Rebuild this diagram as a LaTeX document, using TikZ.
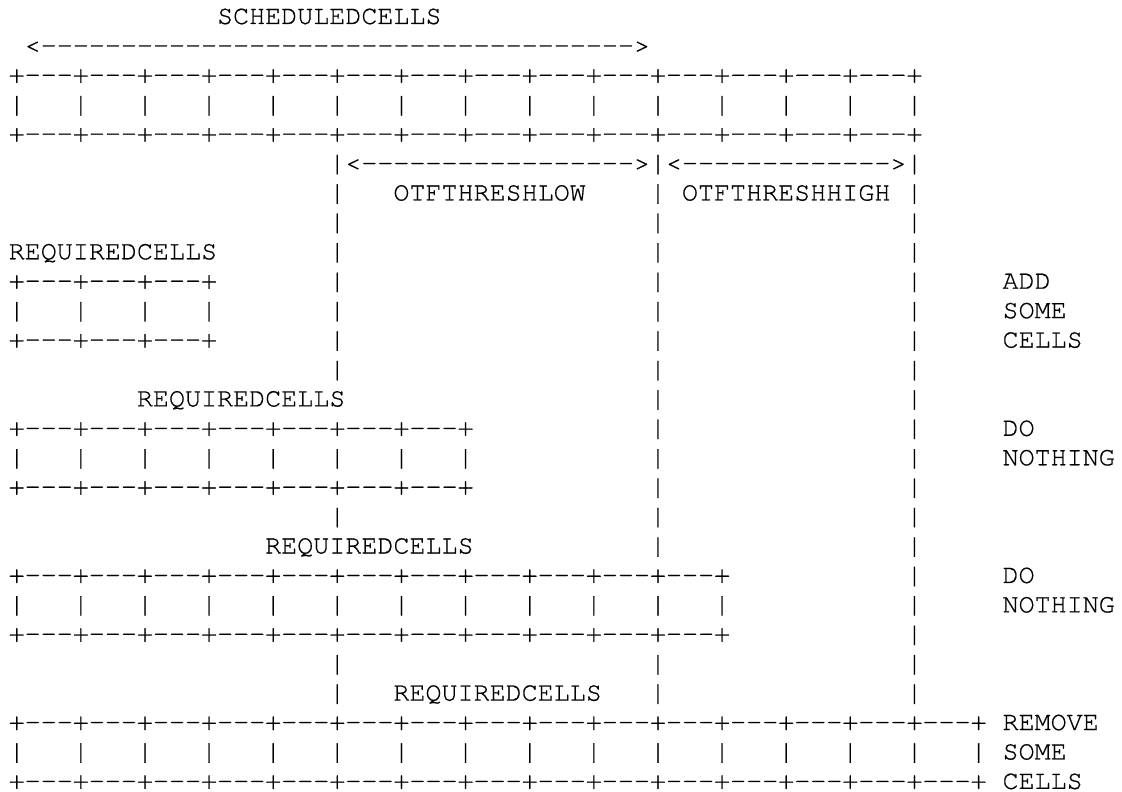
\documentclass[tikz,border=0pt]{standalone}
\usepackage{fontspec}
\setmonofont[FakeBold=0.6]{TeX Gyre Cursor}
\ExplSyntaxOn
\NewDocumentCommand\Rep{mm}{\prg_replicate:nn{#1}{#2}}
\ExplSyntaxOff
\newcommand\PL[1]{\Rep{#1}{+---}+}
\newcommand\BR[1]{\Rep{#1}{|~~~}|}
\tikzset{txt/.style={anchor=base west, inner sep=0pt, outer sep=0pt, text=black,
  font=\ttfamily\fontsize{26.72}{29.42}\selectfont}}
\newcommand\seg[3]{\node[txt] (r#1c#2) at ({8.7+16.03*#2},{792-82.8-29.42*(#1-3)}) {#3};}
\begin{document}
\begin{tikzpicture}[x=1pt,y=1pt]
\useasboundingbox (0,0) rectangle (1122,792);
\seg{1}{13}{SCHEDULEDCELLS}
\seg{2}{1}{<\Rep{37}{-}>}
\seg{3}{0}{\PL{14}}
\seg{4}{0}{\BR{14}}
\seg{5}{0}{\PL{14}}
\seg{6}{20}{|<\Rep{17}{-}>|<\Rep{13}{-}>|}
\seg{7}{20}{|}\seg{7}{24}{OTFTHRESHLOW}\seg{7}{40}{|}\seg{7}{42}{OTFTHRESHHIGH}\seg{7}{56}{|}
\seg{8}{20}{|}\seg{8}{40}{|}\seg{8}{56}{|}
\seg{9}{0}{REQUIREDCELLS}\seg{9}{20}{|}\seg{9}{40}{|}\seg{9}{56}{|}
\seg{10}{0}{\PL{3}}\seg{10}{20}{|}\seg{10}{40}{|}\seg{10}{56}{|}\seg{10}{62}{ADD}
\seg{11}{0}{\BR{3}}\seg{11}{20}{|}\seg{11}{40}{|}\seg{11}{56}{|}\seg{11}{62}{SOME}
\seg{12}{0}{\PL{3}}\seg{12}{20}{|}\seg{12}{40}{|}\seg{12}{56}{|}\seg{12}{62}{CELLS}
\seg{13}{20}{|}\seg{13}{40}{|}\seg{13}{56}{|}
\seg{14}{8}{REQUIREDCELLS}\seg{14}{40}{|}\seg{14}{56}{|}
\seg{15}{0}{\PL{7}}\seg{15}{40}{|}\seg{15}{56}{|}\seg{15}{62}{DO}
\seg{16}{0}{\BR{7}}\seg{16}{40}{|}\seg{16}{56}{|}\seg{16}{62}{NOTHING}
\seg{17}{0}{\PL{7}}\seg{17}{40}{|}\seg{17}{56}{|}
\seg{18}{20}{|}\seg{18}{40}{|}\seg{18}{56}{|}
\seg{19}{16}{REQUIREDCELLS}\seg{19}{40}{|}\seg{19}{56}{|}
\seg{20}{0}{\PL{11}}\seg{20}{56}{|}\seg{20}{62}{DO}
\seg{21}{0}{\BR{11}}\seg{21}{56}{|}\seg{21}{62}{NOTHING}
\seg{22}{0}{\PL{11}}\seg{22}{56}{|}
\seg{23}{20}{|}\seg{23}{40}{|}\seg{23}{56}{|}
\seg{24}{20}{|}\seg{24}{24}{REQUIREDCELLS}\seg{24}{40}{|}\seg{24}{56}{|}
\seg{25}{0}{\PL{15}}\seg{25}{62}{REMOVE}
\seg{26}{0}{\BR{15}}\seg{26}{62}{SOME}
\seg{27}{0}{\PL{15}}\seg{27}{62}{CELLS}
\end{tikzpicture}
\end{document}
